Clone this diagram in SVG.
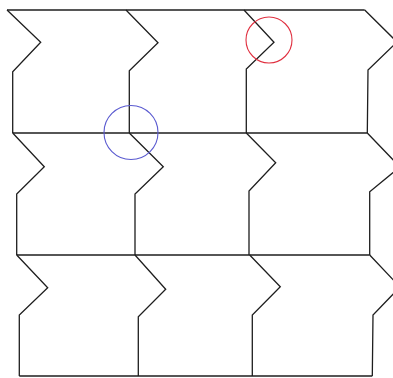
<svg xmlns="http://www.w3.org/2000/svg" width="393" height="378" viewBox="0 0 393 378">
<style>
.ln{fill:none;stroke:#1e1e1e;stroke-width:1.3;stroke-linejoin:miter}
.c{fill:none;stroke-width:1.1}
</style>
<rect width="393" height="378" fill="#fff"/>
<g id="horizontals" class="ln">
<path d="M7,10H364.7"/>
<path d="M12.7,133H367.3"/>
<path d="M16.7,255H369.7"/>
<path d="M19.3,376H372.3"/>
</g>
<g id="row1" class="ln">
<path d="M7,10L40.7,42.3L12.7,71.7V133"/>
<path d="M126,10L158,42.7L129.3,70.7V133"/>
<path d="M244,10L274,42.3L246.3,69V133"/>
<path d="M364.7,10L397,42L368,70L367.3,133"/>
</g>
<g id="row2" class="ln">
<path d="M12.7,133L44.3,166.7L16.7,194V255"/>
<path d="M129.3,133L163.3,166.7L135,194V255"/>
<path d="M246.3,133L275.7,162.7L249,191V255"/>
<path d="M367.3,133L400,167L369.7,191.7V255"/>
</g>
<g id="row3" class="ln">
<path d="M16.7,255L47.7,287.7L19.3,315V376"/>
<path d="M135,255L165.7,289.3L138.3,316.7V376"/>
<path d="M249.7,255L280.3,286.7L252.3,315V376"/>
<path d="M369.7,255L400,287L373,315L372.3,376"/>
</g>
<circle id="blue-circle" class="c" cx="131" cy="132.5" r="27" stroke="#5a5ad0"/>
<circle id="red-circle" class="c" cx="269" cy="40" r="23" stroke="#e03040"/>
</svg>
